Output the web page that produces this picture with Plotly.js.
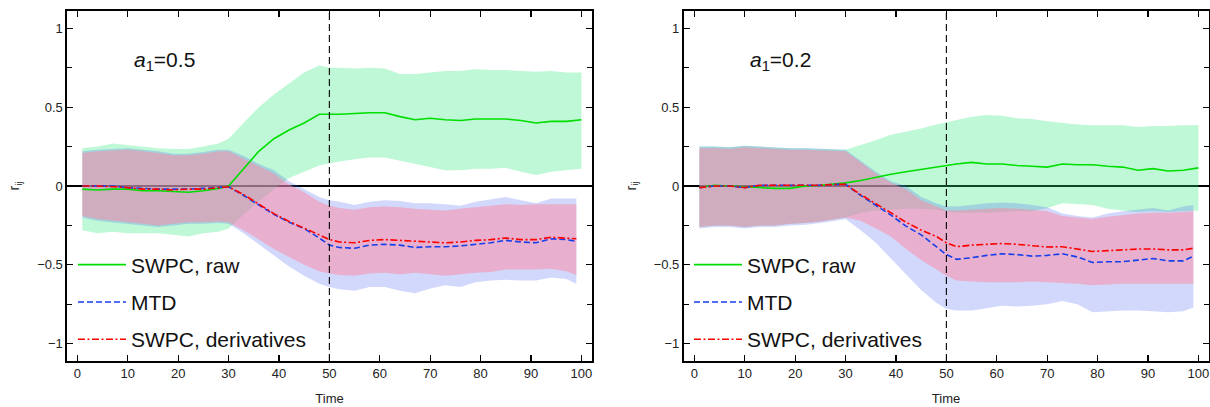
<!DOCTYPE html>
<html>
<head>
<meta charset="utf-8">
<script src="https://cdn.plot.ly/plotly-3.0.1.min.js"></script>
<style>html,body{margin:0;padding:0;background:#fff;}#chart{width:1210px;height:407px;}</style>
</head>
<body>
<div id="chart"></div>
<script>
// ---- time axis ----
const time = [1,4,7,10,13,16,19,22,25,28,30,33,36,39,42,45,48,50,52,55,58,61,64,67,70,73,76,79,82,85,88,91,94,97,100];
const timeD = [1,4,7,10,13,16,19,22,25,28,30,33,36,39,42,45,48,50,52,55,58,61,64,67,70,73,76,79,82,85,88,91,94,97,99];

// ---- panel 1: a1 = 0.5 ----
const rawMean1 = [-0.02,-0.025,-0.02,-0.02,-0.03,-0.03,-0.035,-0.04,-0.03,-0.015,0.0,0.11,0.22,0.30,0.355,0.40,0.455,0.455,0.455,0.46,0.465,0.465,0.44,0.42,0.43,0.42,0.415,0.425,0.425,0.425,0.415,0.40,0.41,0.41,0.42];
const rawUp1 = [0.24,0.25,0.27,0.26,0.25,0.24,0.235,0.235,0.25,0.27,0.30,0.40,0.50,0.58,0.65,0.72,0.765,0.75,0.75,0.745,0.75,0.745,0.71,0.71,0.72,0.73,0.73,0.74,0.735,0.735,0.73,0.725,0.73,0.72,0.72];
const rawLo1 = [-0.28,-0.30,-0.29,-0.30,-0.30,-0.30,-0.31,-0.32,-0.30,-0.29,-0.27,-0.18,-0.10,-0.02,0.05,0.09,0.13,0.145,0.155,0.17,0.18,0.18,0.16,0.14,0.12,0.10,0.10,0.11,0.11,0.115,0.09,0.07,0.09,0.10,0.11];
const mtdMean1 = [0.0,0.0,0.0,-0.01,-0.015,-0.02,-0.02,-0.02,-0.015,-0.01,-0.005,-0.06,-0.12,-0.18,-0.23,-0.27,-0.33,-0.375,-0.39,-0.395,-0.375,-0.37,-0.375,-0.39,-0.385,-0.385,-0.38,-0.37,-0.36,-0.345,-0.355,-0.36,-0.335,-0.34,-0.35];
const mtdUp1 = [0.22,0.23,0.235,0.24,0.23,0.22,0.205,0.205,0.215,0.23,0.23,0.19,0.14,0.10,0.03,-0.02,-0.07,-0.09,-0.10,-0.12,-0.10,-0.09,-0.095,-0.11,-0.11,-0.115,-0.125,-0.10,-0.085,-0.07,-0.09,-0.11,-0.08,-0.08,-0.08];
const mtdLo1 = [-0.20,-0.22,-0.23,-0.24,-0.25,-0.26,-0.25,-0.24,-0.24,-0.235,-0.24,-0.30,-0.37,-0.44,-0.51,-0.57,-0.62,-0.64,-0.655,-0.665,-0.64,-0.64,-0.665,-0.68,-0.65,-0.63,-0.64,-0.61,-0.60,-0.595,-0.60,-0.60,-0.58,-0.59,-0.62];
const derMean1 = [0.0,0.0,-0.005,-0.01,-0.02,-0.02,-0.025,-0.02,-0.02,-0.01,-0.005,-0.055,-0.115,-0.175,-0.225,-0.265,-0.31,-0.34,-0.355,-0.36,-0.345,-0.34,-0.345,-0.35,-0.355,-0.36,-0.355,-0.345,-0.34,-0.33,-0.34,-0.34,-0.325,-0.33,-0.335];
const derUp1 = [0.21,0.22,0.225,0.23,0.22,0.21,0.195,0.195,0.205,0.22,0.22,0.175,0.125,0.08,0.01,-0.04,-0.10,-0.125,-0.14,-0.15,-0.135,-0.13,-0.135,-0.145,-0.15,-0.155,-0.145,-0.135,-0.125,-0.115,-0.12,-0.115,-0.115,-0.115,-0.115];
const derLo1 = [-0.19,-0.21,-0.22,-0.23,-0.24,-0.25,-0.24,-0.23,-0.23,-0.225,-0.23,-0.28,-0.34,-0.40,-0.45,-0.50,-0.54,-0.555,-0.565,-0.57,-0.555,-0.55,-0.56,-0.55,-0.56,-0.57,-0.56,-0.55,-0.545,-0.53,-0.53,-0.53,-0.525,-0.54,-0.565];

// ---- panel 2: a1 = 0.2 ----
const rawMean2 = [-0.01,0.005,0.0,-0.005,-0.01,-0.015,-0.015,0.0,0.005,0.015,0.02,0.035,0.055,0.075,0.09,0.105,0.12,0.13,0.14,0.15,0.14,0.14,0.13,0.125,0.12,0.14,0.135,0.135,0.125,0.12,0.10,0.11,0.095,0.10,0.115];
const rawUp2 = [0.25,0.25,0.245,0.255,0.25,0.245,0.24,0.24,0.235,0.23,0.23,0.26,0.29,0.325,0.345,0.365,0.39,0.405,0.42,0.44,0.45,0.445,0.43,0.425,0.41,0.40,0.39,0.385,0.385,0.385,0.375,0.38,0.38,0.385,0.385];
const rawLo2 = [-0.26,-0.25,-0.25,-0.26,-0.25,-0.25,-0.24,-0.235,-0.225,-0.21,-0.20,-0.17,-0.155,-0.15,-0.145,-0.145,-0.15,-0.16,-0.17,-0.17,-0.17,-0.165,-0.16,-0.16,-0.14,-0.11,-0.115,-0.12,-0.145,-0.155,-0.165,-0.16,-0.165,-0.16,-0.155];
const mtdMean2 = [-0.01,0.0,0.0,-0.01,0.005,0.005,0.005,0.005,0.005,0.01,0.01,-0.06,-0.12,-0.185,-0.255,-0.31,-0.385,-0.435,-0.465,-0.455,-0.44,-0.43,-0.435,-0.445,-0.44,-0.43,-0.45,-0.485,-0.48,-0.48,-0.47,-0.46,-0.475,-0.475,-0.445];
const mtdUp2 = [0.25,0.25,0.245,0.255,0.25,0.245,0.24,0.24,0.235,0.23,0.23,0.16,0.09,0.03,0.0,-0.07,-0.11,-0.13,-0.13,-0.12,-0.11,-0.105,-0.11,-0.12,-0.135,-0.175,-0.19,-0.20,-0.175,-0.16,-0.15,-0.14,-0.155,-0.13,-0.12];
const mtdLo2 = [-0.27,-0.26,-0.26,-0.27,-0.26,-0.26,-0.25,-0.245,-0.235,-0.22,-0.21,-0.28,-0.36,-0.46,-0.56,-0.66,-0.74,-0.78,-0.79,-0.79,-0.775,-0.76,-0.765,-0.76,-0.75,-0.73,-0.75,-0.80,-0.795,-0.79,-0.79,-0.795,-0.80,-0.795,-0.77];
const derMean2 = [-0.01,0.0,0.0,-0.01,0.005,0.005,0.005,0.005,0.005,0.01,0.01,-0.055,-0.11,-0.17,-0.23,-0.28,-0.32,-0.36,-0.385,-0.375,-0.37,-0.365,-0.37,-0.38,-0.387,-0.385,-0.40,-0.415,-0.41,-0.405,-0.40,-0.40,-0.405,-0.405,-0.395];
const derUp2 = [0.24,0.24,0.235,0.245,0.24,0.235,0.23,0.23,0.225,0.22,0.22,0.15,0.08,0.02,-0.02,-0.09,-0.13,-0.155,-0.155,-0.15,-0.145,-0.14,-0.145,-0.15,-0.16,-0.19,-0.20,-0.21,-0.195,-0.185,-0.175,-0.17,-0.17,-0.165,-0.16];
const derLo2 = [-0.26,-0.25,-0.25,-0.26,-0.25,-0.25,-0.24,-0.235,-0.225,-0.21,-0.20,-0.22,-0.27,-0.32,-0.40,-0.47,-0.53,-0.57,-0.60,-0.605,-0.61,-0.61,-0.61,-0.605,-0.61,-0.615,-0.62,-0.63,-0.625,-0.62,-0.62,-0.62,-0.62,-0.62,-0.62];

const seriesNames = ['SWPC, raw', 'MTD', 'SWPC, derivatives'];
const panelLabels = ['<i>a</i><sub>1</sub>=0.5', '<i>a</i><sub>1</sub>=0.2'];
const xTickVals = [0,10,20,30,40,50,60,70,80,90,100];
const yTickVals = [-1,-0.5,0,0.5,1];
const yTickText = ['\u22121','\u22120.5','0','0.5','1'];
const changeTime = 50;

const lineColors = ['rgb(0,222,0)', 'rgb(22,62,235)', 'rgb(255,0,0)'];
const bandColors = ['rgba(40,232,120,0.30)', 'rgba(70,100,245,0.25)', 'rgba(255,135,160,0.50)'];
const dashes = ['solid', '6px,3px', '7px,2.5px,2px,2.5px'];

function band(t, up, lo, color, xa, ya) {
  return {
    x: t.concat(t.slice().reverse()),
    y: up.concat(lo.slice().reverse()),
    type: 'scatter', mode: 'lines', fill: 'toself', fillcolor: color,
    line: {width: 0, color: 'rgba(0,0,0,0)'}, hoverinfo: 'skip', showlegend: false,
    xaxis: xa, yaxis: ya
  };
}
function line(t, y, i, xa, ya, leg) {
  return {
    x: t, y: y, type: 'scatter', mode: 'lines', name: seriesNames[i],
    line: {color: lineColors[i], width: 1.6, dash: dashes[i]},
    xaxis: xa, yaxis: ya, legend: leg, legendgroup: leg + i, showlegend: true
  };
}

const panels = [
  {xa: 'x', ya: 'y', leg: 'legend', raw: [rawMean1, rawUp1, rawLo1], mtd: [mtdMean1, mtdUp1, mtdLo1], der: [derMean1, derUp1, derLo1]},
  {xa: 'x2', ya: 'y2', leg: 'legend2', raw: [rawMean2, rawUp2, rawLo2], mtd: [mtdMean2, mtdUp2, mtdLo2], der: [derMean2, derUp2, derLo2]}
];

const data = [];
panels.forEach(p => {
  data.push(band(time, p.raw[1], p.raw[2], bandColors[0], p.xa, p.ya));
  data.push(band(timeD, p.mtd[1], p.mtd[2], bandColors[1], p.xa, p.ya));
  data.push(band(timeD, p.der[1], p.der[2], bandColors[2], p.xa, p.ya));
});
panels.forEach(p => {
  data.push(line(time, p.raw[0], 0, p.xa, p.ya, p.leg));
  data.push(line(timeD, p.mtd[0], 1, p.xa, p.ya, p.leg));
  data.push(line(timeD, p.der[0], 2, p.xa, p.ya, p.leg));
});

const fontFam = 'Liberation Sans, Arial, sans-serif';
function xax(domain, range, anchor) {
  return {
    domain: domain, range: range, anchor: anchor,
    tickvals: xTickVals, ticks: 'inside', ticklen: 6, tickwidth: 1.2, tickcolor: '#000',
    showline: true, linecolor: '#000', linewidth: 1.6, mirror: 'allticks',
    showgrid: false, zeroline: false,
    tickfont: {family: fontFam, size: 13, color: '#222'},
    title: {text: 'Time', font: {family: fontFam, size: 13, color: '#222'}, standoff: 13}
  };
}
function yax(range, anchor) {
  return {
    domain: [0, 1], range: range, anchor: anchor,
    tickvals: yTickVals, ticktext: yTickText, ticks: 'inside', ticklen: 6, tickwidth: 1.2, tickcolor: '#000',
    minor: {dtick: 0.25, tick0: 0, ticks: 'inside', ticklen: 5, tickwidth: 1.2, tickcolor: '#000', showgrid: false},
    showline: true, linecolor: '#000', linewidth: 1.6, mirror: 'allticks',
    showgrid: false, zeroline: true, zerolinecolor: '#000', zerolinewidth: 1.1,
    tickfont: {family: fontFam, size: 13, color: '#222'},
    title: {text: 'r<sub>ij</sub>', font: {family: fontFam, size: 14, color: '#222'}, standoff: 14}
  };
}

const legendCommon = {
  xanchor: 'left', yanchor: 'top', bgcolor: 'rgba(0,0,0,0)', borderwidth: 0,
  font: {family: fontFam, size: 21, color: '#111'}, tracegroupgap: 7, itemwidth: 48
};

const layout = {
  width: 1210, height: 407,
  margin: {l: 0, r: 0, t: 11, b: 46},
  paper_bgcolor: '#fff', plot_bgcolor: '#fff',
  showlegend: true,
  xaxis: xax([67/1210, 592/1210], [-2.05, 102.1], 'y'),
  yaxis: yax([-1.11, 1.11], 'x'),
  xaxis2: xax([683.5/1210, 1208.5/1210], [-2.15, 102.0], 'y2'),
  yaxis2: yax([-1.11, 1.11], 'x2'),
  legend: Object.assign({x: 73/1210, y: 1 - 233.5/350}, legendCommon),
  legend2: Object.assign({x: 689/1210, y: 1 - 233.5/350}, legendCommon),
  shapes: [
    {type: 'line', xref: 'x', yref: 'y domain', x0: changeTime, x1: changeTime, y0: 0, y1: 1, line: {color: '#000', width: 1.1, dash: '7px,4px'}},
    {type: 'line', xref: 'x2', yref: 'y2 domain', x0: changeTime, x1: changeTime, y0: 0, y1: 1, line: {color: '#000', width: 1.1, dash: '7px,4px'}}
  ],
  annotations: [
    {xref: 'x', yref: 'y', x: 10.8, y: 0.79, xanchor: 'left', yanchor: 'middle', text: panelLabels[0], showarrow: false, font: {family: fontFam, size: 21, color: '#111'}},
    {xref: 'x2', yref: 'y2', x: 10.7, y: 0.79, xanchor: 'left', yanchor: 'middle', text: panelLabels[1], showarrow: false, font: {family: fontFam, size: 21, color: '#111'}}
  ]
};

Plotly.newPlot('chart', data, layout, {displayModeBar: false, staticPlot: true});
</script>
</body>
</html>
